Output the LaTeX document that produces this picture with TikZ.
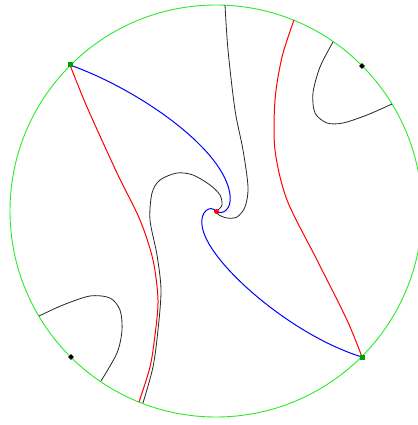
\documentclass[tikz,border=0pt]{standalone}
\usetikzlibrary{shapes.geometric}
\definecolor{ring}{RGB}{40,235,40}
\definecolor{sqgreen}{RGB}{0,160,0}
\tikzset{
  gsq/.style={draw=none,fill=sqgreen,minimum size=5pt,inner sep=0pt,rectangle},
  bdot/.style={draw=none,fill=black,diamond,minimum size=6pt,inner sep=0pt},
  rdot/.style={draw=none,fill=red,circle,minimum size=5pt,inner sep=0pt},
  bcurve/.style={blue,line width=1pt},
  rcurve/.style={red,line width=1pt},
  kcurve/.style={black!85,line width=0.8pt},
}
\begin{document}
\begin{tikzpicture}[x=1pt,y=-1pt]
\useasboundingbox (0,0) rectangle (417,425);
\node[draw=none,inner sep=0pt] (o) at (216,211) {};
\draw[ring,line width=0.9pt] (o) circle (206);
% boundary ends
\coordinate (ta) at (225,5);
\coordinate (bb) at (143,403);
\coordinate (rb) at (139,402);
\coordinate (rt) at (294,20);
\coordinate (a1) at (333,42);
\coordinate (a2) at (392,104);
\coordinate (b1) at (39,316);
\coordinate (b2) at (101,381);
% markers
\node[gsq] (p1) at (70,65) {};
\node[gsq] (p2) at (362,357) {};
\node[bdot] (d1) at (362,66) {};
\node[bdot] (d2) at (71,357) {};
\coordinate (c) at (216.5,211.5);
% red curves
\draw[rcurve] plot[smooth] coordinates {(p1) (87,107) (117,173) (140,220) (153,260) (158,300) (155,335) (150,367) (rb)};
\draw[rcurve] plot[smooth] coordinates {(p2) (347,320) (317,260) (287,200) (275,150) (275,100) (282,57) (rt)};
% blue curves
\draw[bcurve] (p1.center) .. controls (140,90) and (225,150) .. (230,195) .. controls (232,210) and (222,215) .. (c);
\draw[bcurve] (p2.center) .. controls (290,335) and (205,260) .. (202,225) .. controls (200,212) and (210,204) .. (c);
% black curves
\draw[kcurve] plot[smooth] coordinates {(ta) (228,50) (235,110) (243,150) (248,187) (245,207) (237,217) (227,218) (219,215) (216.5,212)};
\draw[kcurve] plot[smooth] coordinates {(bb) (153,367) (158,330) (161,290) (157,255) (150,220) (152,193) (160,180) (177,173) (193,175) (210,185) (220,195) (222,205) (218,210)};
\draw[kcurve] plot[smooth] coordinates {(a1) (320,67) (313,93) (315,113) (327,123) (343,123) (367,115) (a2)};
\draw[kcurve] plot[smooth] coordinates {(b1) (63,305) (90,296) (110,298) (120,310) (122,330) (117,353) (b2)};
% marker redraw on top
\node[gsq] at (p1) {};
\node[gsq] at (p2) {};
\node[rdot] (cd) at (c) {};
\end{tikzpicture}
\end{document}
